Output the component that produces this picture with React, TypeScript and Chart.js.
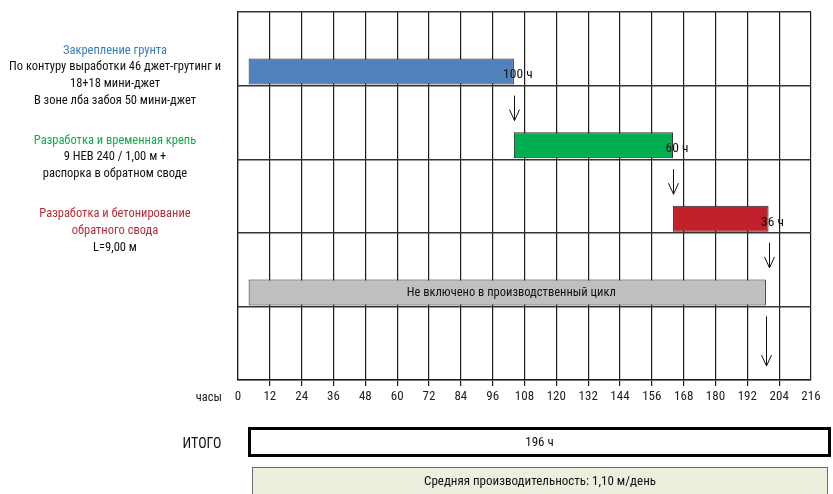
import { useEffect, useRef } from 'react';
import { Chart, registerables } from 'chart.js';

Chart.register(...registerables);

// Schedule rows, top to bottom (the last row is an empty lane)
const ROWS = [
  'Закрепление грунта',
  'Разработка и временная крепь',
  'Разработка и бетонирование обратного свода',
  'Не включено в производственный цикл',
  '',
];
// Start and end of each stage, hours
const START_H = [4, 104, 164, 4];
const END_H = [104, 164, 200, 199];
// Number of stages that make up the production cycle
const CYCLE_STAGES = 3;
const IDLE_LABEL = 'Не включено в производственный цикл';
// Hour axis ticks
const HOUR_TICKS = [0, 12, 24, 36, 48, 60, 72, 84, 96, 108, 120, 132, 144, 156, 168, 180, 192, 204, 216];
// Advance per cycle, metres
const ADVANCE_M = 9;

const BAR_COLORS = ['#4f81bd', '#00b050', '#c0212b', '#c0c0c0'];
const FONT = "'Roboto Condensed', 'Roboto', sans-serif";

const cycleHours = START_H.slice(0, CYCLE_STAGES).reduce((s, v, i) => s + (END_H[i] - v), 0);
const ratePerDay = ((ADVANCE_M * 24) / cycleHours).toFixed(2).replace('.', ',');

const DESCRIPTIONS = [
  { color: '#3a7cbf', top: 41.5, lines: ['Закрепление грунта', 'По контуру выработки 46 джет-грутинг и', '18+18 мини-джет', 'В зоне лба забоя 50 мини-джет'] },
  { color: '#17a84f', top: 131.5, lines: ['Разработка и временная крепь', '9 НЕВ 240 / 1,00 м +', 'распорка в обратном своде'] },
  { color: '#b52f3a', top: 204.8, lines: ['Разработка и бетонирование', 'обратного свода', `L=${ADVANCE_M},00 м`] },
];

const stageOverlay = {
  id: 'stageOverlay',
  afterDatasetsDraw(chart: any) {
    const { ctx, chartArea } = chart;
    const meta = chart.getDatasetMeta(1);
    ctx.save();
    ctx.fillStyle = '#111';
    ctx.strokeStyle = '#111';
    ctx.lineWidth = 1;
    meta.data.forEach((bar: any, i: number) => {
      if (i >= START_H.length) return;
      const { x, y, base, height } = bar.getProps(['x', 'y', 'base', 'height'], true);
      ctx.textBaseline = 'middle';
      ctx.textAlign = 'center';
      if (i < CYCLE_STAGES) {
        ctx.font = `13.5px ${FONT}`;
        ctx.fillText(`${END_H[i] - START_H[i]} ч`, x + 4, y + 3.5);
      } else {
        ctx.font = `12.5px ${FONT}`;
        ctx.fillText(IDLE_LABEL, (x + base) / 2 + 4, y);
      }
      // arrow down from the end of the stage
      const ax = Math.round(x) + 0.5;
      const y0 = y + height / 2 + 11;
      const y1 = i < CYCLE_STAGES ? y0 + 25 : chartArea.bottom - 14;
      ctx.beginPath();
      ctx.moveTo(ax, y0);
      ctx.lineTo(ax, y1);
      ctx.moveTo(ax - 5, y1 - 11);
      ctx.lineTo(ax, y1);
      ctx.lineTo(ax + 5, y1 - 11);
      ctx.stroke();
    });
    ctx.restore();
  },
  afterDraw(chart: any) {
    const { ctx, chartArea } = chart;
    ctx.save();
    ctx.font = `12.5px ${FONT}`;
    ctx.fillStyle = '#222';
    ctx.textAlign = 'right';
    ctx.textBaseline = 'middle';
    ctx.fillText('часы', chartArea.left - 16, 397.5);
    ctx.restore();
  },
};

export default function App() {
  const canvasRef = useRef<HTMLCanvasElement | null>(null);

  useEffect(() => {
    const canvas = canvasRef.current;
    if (!canvas) return;
    Chart.defaults.font.family = FONT;
    const bars = ROWS.map((_, i) => (i < START_H.length ? [START_H[i], END_H[i]] : null));
    const chart = new Chart(canvas, {
      type: 'bar',
      data: {
        labels: ROWS,
        datasets: [
          { label: '', data: ROWS.map(() => null) as any },
          {
            label: 'Часы',
            data: bars as any,
            backgroundColor: BAR_COLORS,
            borderColor: '#2a2a2a',
            borderWidth: 1,
            borderSkipped: false,
          },
        ],
      },
      options: {
        indexAxis: 'y',
        responsive: false,
        animation: false,
        events: [],
        datasets: { bar: { categoryPercentage: 1.24, barPercentage: 0.57 } },
        layout: { padding: { left: 238, right: 22, top: 12, bottom: 84 } },
        plugins: { legend: { display: false }, tooltip: { enabled: false } },
        scales: {
          x: {
            type: 'linear',
            min: 0,
            max: 216,
            afterBuildTicks: (s: any) => {
              s.ticks = HOUR_TICKS.map((v) => ({ value: v }));
            },
            afterFit: (s: any) => {
              s.height = 30;
            },
            ticks: { color: '#222', font: { size: 13 }, padding: 3, maxRotation: 0, autoSkip: false },
            grid: {
              color: '#1c1c1c',
              lineWidth: 1.2,
              drawTicks: true,
              tickLength: 6,
              tickColor: (c: any) =>
                c.tick && (c.tick.value === 0 || c.tick.value === 216) ? 'rgba(0,0,0,0)' : '#1c1c1c',
            },
            border: { display: true, color: '#1c1c1c', width: 1.2 },
          },
          y: {
            type: 'category',
            offset: true,
            afterFit: (s: any) => {
              s.width = 0;
            },
            ticks: { display: false },
            grid: { offset: true, color: '#333', lineWidth: 1.4, drawTicks: false },
            border: { display: true, color: '#1c1c1c', width: 1.2 },
          },
        },
      } as any,
      plugins: [stageOverlay],
    });
    return () => chart.destroy();
  }, []);

  const textBase: any = { position: 'absolute', fontFamily: FONT, color: '#111', whiteSpace: 'nowrap' };

  return (
    <div style={{ position: 'absolute', left: 0, top: 0, width: 833, height: 494, overflow: 'hidden', background: '#fff' }}>
      <canvas ref={canvasRef} width={833} height={494} style={{ position: 'absolute', left: 0, top: 0 }} />
      {DESCRIPTIONS.map((d, gi) => (
        <div key={gi} style={{ ...textBase, left: 0, width: 230, top: d.top, textAlign: 'center', fontSize: 12.5, lineHeight: '16.9px' }}>
          {d.lines.map((t, li) => (
            <div key={li} style={{ color: li === 0 || (gi === 2 && li === 1) ? d.color : '#111' }}>{t}</div>
          ))}
        </div>
      ))}
      <div style={{ ...textBase, left: 160, width: 84, top: 433, lineHeight: '20px', fontSize: 14, textAlign: 'center' }}>ИТОГО</div>
      <div
        style={{
          ...textBase,
          left: 248,
          top: 427,
          width: 583,
          height: 29.5,
          boxSizing: 'border-box',
          border: '3px solid #000',
          textAlign: 'center',
          fontSize: 13,
          lineHeight: '23.5px',
        }}
      >
        {`${cycleHours} ч`}
      </div>
      <div
        style={{
          ...textBase,
          left: 252,
          top: 467,
          width: 576,
          height: 40,
          boxSizing: 'border-box',
          border: '1px solid #6a6a6a',
          background: '#ebefde',
          textAlign: 'center',
          fontSize: 13,
          lineHeight: '25px',
        }}
      >
        {`Средняя производительность: ${ratePerDay} м/день`}
      </div>
    </div>
  );
}
